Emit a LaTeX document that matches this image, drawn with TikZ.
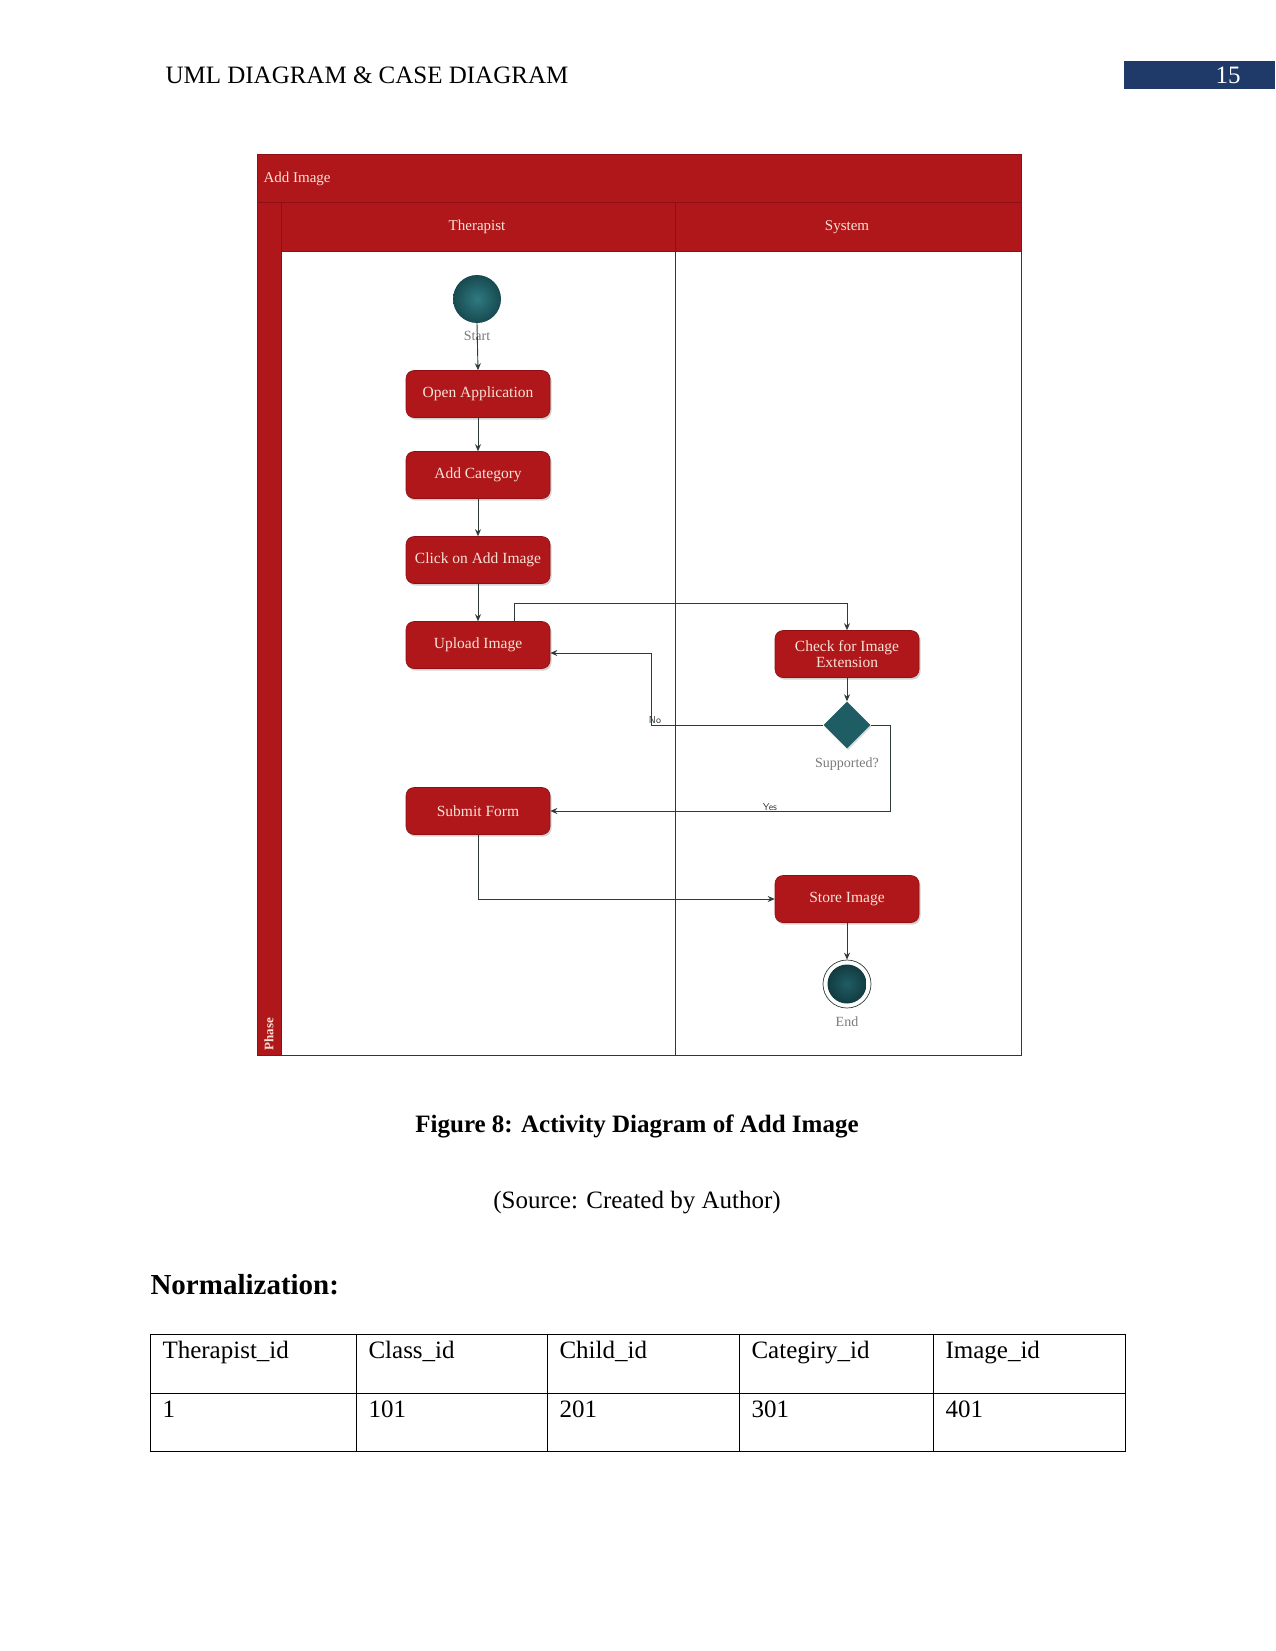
\documentclass[tikz,border=0pt]{standalone}
\usepackage{fontspec}
\setmainfont{Liberation Serif}
\usetikzlibrary{arrows.meta,shapes.geometric,shadows}
\definecolor{umlred}{HTML}{B0171A}
\definecolor{umldark}{HTML}{8E1014}
\definecolor{umlteal}{HTML}{1F5D64}
\definecolor{umltealL}{HTML}{2E7A80}
\definecolor{umltealD}{HTML}{174A50}
\definecolor{umltext}{HTML}{F7E3D6}
\definecolor{umlline}{HTML}{2E3B3B}
\definecolor{umlgray}{HTML}{7A7A7A}
\definecolor{pageblue}{HTML}{1F3A68}
\tikzset{
  act/.style={draw=umldark, line width=0.6pt, fill=umlred, rounded corners=8pt, minimum width=144pt, minimum height=47pt,
    align=center, text=umltext, font=\fontsize{15.5}{18}\selectfont,
    drop shadow={opacity=0.35, shadow xshift=1.5pt, shadow yshift=-2pt}},
  lbl/.style={text=umlgray, font=\fontsize{14}{16}\selectfont},
  flow/.style={draw=umlline, line width=0.9pt, -{Stealth[length=7pt,width=6pt]}},
  hdr/.style={text=umltext, font=\fontsize{15}{18}\selectfont},
  body/.style={font=\fontsize{25}{30}\selectfont},
  cell/.style={anchor=base west, font=\fontsize{25}{30}\selectfont}
}
\begin{document}
\begin{tikzpicture}[x=1pt,y=-1pt]
\useasboundingbox (0,0) rectangle (1275,1651);
\fill[white] (0,0) rectangle (1275,1651);
% page header
\node[body, anchor=base west] (head) at (162,84) {UML DIAGRAM \& CASE DIAGRAM};
\fill[pageblue] (1124,61) rectangle (1275,89);
\node[body, text=white, anchor=base] (pnum) at (1228,84) {15};
% swimlane frame
\fill[umlred] (257,154) rectangle (1021,251);
\fill[umlred] (257,202) rectangle (281,1055);
\draw[umldark, line width=0.8pt] (257,154) rectangle (1021,1055);
\draw[umldark, line width=0.6pt] (257,202) -- (1021,202);
\draw[umldark, line width=0.6pt] (281,202) -- (281,1055);
\draw[umldark, line width=0.8pt] (281,251) -- (1021,251);
\draw[umldark, line width=1pt] (675,202) -- (675,1055);
\node[hdr, anchor=west] (title) at (260,179) {Add Image};
\node[hdr] (lane1) at (477,227) {Therapist};
\node[hdr] (lane2) at (847,227) {System};
\node[hdr, rotate=90, font=\bfseries\fontsize{13}{15}\selectfont] (phase) at (269,1034) {Phase};
% nodes
\shade[inner color=umltealL, outer color=umltealD] (477,299) circle (24pt);
\node[circle, minimum size=48pt, inner sep=0pt] (start) at (477,299) {};
\node[lbl] (startl) at (477,336) {Start};
\node[act] (open) at (478,394) {Open Application};
\node[act] (cat) at (478,475) {Add Category};
\node[act] (click) at (478,560) {Click on Add Image};
\node[act] (upload) at (478,645) {Upload Image};
\node[act] (check) at (847,654) {Check for Image\\[-2pt]Extension};
\node[diamond, fill=umlteal, minimum width=47pt, minimum height=47pt, inner sep=0pt,
  drop shadow={opacity=0.3, shadow xshift=1pt, shadow yshift=-1.5pt}] (dec) at (847,725) {};
\node[lbl] (decl) at (847,764) {Supported?};
\node[act] (submit) at (478,811) {Submit Form};
\node[act] (store) at (847,899) {Store Image};
\node[circle, draw=umlline, line width=0.7pt, fill=white, minimum size=48pt, inner sep=0pt] (endc) at (847,984) {};
\shade[inner color=umlteal, outer color=umltealD!80!black] (847,984) circle (19.5pt);
\node[lbl] (endl) at (847,1022) {End};
% connectors
\draw[flow] (start.south) -- (open.north);
\draw[flow] (open) -- (cat);
\draw[flow] (cat) -- (click);
\draw[flow] (click) -- (upload);
\coordinate (u1) at (514,603);
\coordinate (u2) at (847,603);
\draw[flow] (upload.north -| u1) -- (u1) -- (u2) -- (check.north);
\draw[flow] (check) -- (dec);
\coordinate (n1) at (651,725);
\coordinate (n2) at (651,653);
\draw[flow] (dec.west) -- (n1) -- (n2) -- (upload.east |- n2);
\node[font=\sffamily\fontsize{10}{12}\selectfont, text=umlline] (nol) at (655,720) {No};
\coordinate (y1) at (890,725);
\coordinate (y2) at (890,811);
\draw[flow] (dec.east) -- (y1) -- (y2) -- (submit.east);
\node[font=\sffamily\fontsize{10}{12}\selectfont, text=umlline] (yesl) at (770,807) {Yes};
\draw[flow] (submit.south) -- (store.west -| submit.south) -- (store.west);
\draw[flow] (store) -- (endc);
% caption
\node[body, font=\bfseries\fontsize{25}{30}\selectfont, anchor=base] (cap) at (637,1132) {Figure 8: Activity Diagram of Add Image};
\node[body, anchor=base] (src) at (637,1208) {(Source: Created by Author)};
\node[font=\bfseries\fontsize{29}{34}\selectfont, anchor=base west] (norm) at (147,1294) {Normalization:};
% table
\draw[black, line width=0.8pt] (150,1334) rectangle (1125,1451);
\draw[black, line width=0.8pt] (150,1393) -- (1125,1393);
\foreach \x in {356,547,739,933} \draw[black, line width=0.8pt] (\x,1334) -- (\x,1451);
\node[cell] (h1) at (159,1358) {Therapist\_id};
\node[cell] (h2) at (365,1358) {Class\_id};
\node[cell] (h3) at (556,1358) {Child\_id};
\node[cell] (h4) at (748,1358) {Categiry\_id};
\node[cell] (h5) at (942,1358) {Image\_id};
\node[cell] (v1) at (159,1417) {1};
\node[cell] (v2) at (365,1417) {101};
\node[cell] (v3) at (556,1417) {201};
\node[cell] (v4) at (748,1417) {301};
\node[cell] (v5) at (942,1417) {401};
\end{tikzpicture}
\end{document}
